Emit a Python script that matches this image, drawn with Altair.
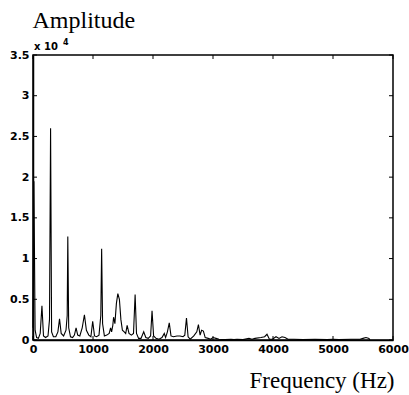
import altair as alt
import pandas as pd

# Spectrum data (frequency in Hz, amplitude in units of 10^4)
freq = [0, 15, 35, 60, 90, 120, 149, 175, 210, 250, 275, 293, 310, 340, 380, 415, 442, 470,
        510, 550, 570, 580, 595, 625, 660, 690, 718, 745, 780, 820, 857, 890, 930, 965, 995,
        1025, 1060, 1100, 1130, 1144, 1160, 1190, 1230, 1270, 1293, 1310, 1330, 1343, 1365,
        1390, 1414, 1440, 1465, 1490, 1520, 1545, 1569, 1600, 1640, 1675, 1702, 1725, 1760,
        1800, 1845, 1880, 1920, 1960, 1984, 2010, 2050, 2100, 2150, 2188, 2210, 2240, 2271,
        2300, 2340, 2400, 2450, 2500, 2530, 2558, 2585, 2620, 2680, 2730, 2757, 2785, 2810,
        2840, 2870, 2920, 2960, 3000, 3050, 3100, 3200, 3300, 3350, 3400, 3500, 3600, 3650,
        3700, 3800, 3860, 3900, 3940, 3990, 4050, 4100, 4150, 4200, 4250, 4350, 4500, 4700,
        4900, 5000, 5100, 5300, 5450, 5500, 5550, 5600, 5614]
amp = [0.15, 1.95, 0.12, 0.03, 0.02, 0.08, 0.42, 0.05, 0.03, 0.05, 0.25, 2.60, 0.10, 0.04,
       0.04, 0.10, 0.26, 0.08, 0.05, 0.12, 0.30, 1.27, 0.15, 0.04, 0.03, 0.06, 0.15, 0.06,
       0.05, 0.15, 0.31, 0.12, 0.06, 0.04, 0.23, 0.05, 0.04, 0.06, 0.30, 1.12, 0.20, 0.05,
       0.06, 0.08, 0.15, 0.10, 0.18, 0.28, 0.20, 0.45, 0.57, 0.50, 0.25, 0.12, 0.10, 0.08,
       0.18, 0.08, 0.06, 0.08, 0.56, 0.08, 0.02, 0.02, 0.10, 0.03, 0.02, 0.05, 0.36, 0.05,
       0.02, 0.01, 0.03, 0.08, 0.03, 0.10, 0.21, 0.05, 0.04, 0.05, 0.05, 0.04, 0.06, 0.27,
       0.04, 0.01, 0.05, 0.10, 0.19, 0.06, 0.12, 0.11, 0.03, 0.02, 0.01, 0.03, 0.02, 0.01,
       0.005, 0.01, 0.005, 0.01, 0.005, 0.02, 0.01, 0.02, 0.03, 0.04, 0.07, 0.01, 0.01, 0.04,
       0.02, 0.04, 0.03, 0.01, 0.01, 0.005, 0.01, 0.005, 0.01, 0.005, 0.01, 0.01, 0.02, 0.03,
       0.02, 0.0]

x_ticks = [0, 1000, 2000, 3000, 4000, 5000, 6000]
y_ticks = [0, 0.5, 1, 1.5, 2, 2.5, 3, 3.5]
x_title = "Frequency (Hz)"
y_title = "Amplitude"
exp_base = ["x 10"]
exp_power = ["4"]

W, H = 360, 285
TL = 4  # inward tick length
SANS = "DejaVu Sans"
SERIF = "Liberation Serif"

df = pd.DataFrame({"f": freq, "a": amp})
xt = pd.DataFrame({"f": x_ticks})
yt = pd.DataFrame({"a": y_ticks})

xscale = alt.Scale(domain=[0, 6000], nice=False, zero=False)
yscale = alt.Scale(domain=[0, 3.5], nice=False, zero=False)

x_axis = alt.Axis(values=x_ticks, ticks=False, grid=False, labelPadding=3,
                  labelFont=SANS, labelFontWeight="bold", labelFontSize=11,
                  labelColor="black", labelFlush=False, labelOverlap=False,
                  labelExpr="format(datum.value, 'd')",
                  domainColor="black", domainWidth=1.5,
                  title=x_title, titleFont=SERIF, titleFontSize=23,
                  titleFontWeight="normal", titleColor="black",
                  titleAlign="right", titleAnchor="end", titleX=W + 1, titleY=47,
                  titleBaseline="alphabetic")
y_axis = alt.Axis(values=y_ticks, ticks=False, grid=False, labelPadding=4,
                  labelFont=SANS, labelFontWeight="bold", labelFontSize=11,
                  labelColor="black", labelFlush=False, labelOverlap=False,
                  labelExpr="datum.value == 0 ? '0' : format(datum.value, '.2~f')",
                  domainColor="black", domainWidth=1.5,
                  title=y_title, titleFont=SERIF, titleFontSize=24,
                  titleFontWeight="normal", titleColor="black", titleAngle=0,
                  titleAlign="left", titleX=-1, titleY=-28,
                  titleBaseline="alphabetic")

line = alt.Chart(df).mark_line(color="black", strokeWidth=1.1).encode(
    x=alt.X("f:Q", scale=xscale, axis=x_axis),
    y=alt.Y("a:Q", scale=yscale, axis=y_axis),
)

bottom_ticks = alt.Chart(xt).mark_rule(color="black", strokeWidth=1).encode(
    x=alt.X("f:Q", scale=xscale, axis=x_axis), y=alt.value(H), y2=alt.value(H - TL))
top_ticks = alt.Chart(xt).mark_rule(color="black", strokeWidth=1).encode(
    x=alt.X("f:Q", scale=xscale, axis=x_axis), y=alt.value(0), y2=alt.value(TL))
left_ticks = alt.Chart(yt).mark_rule(color="black", strokeWidth=1).encode(
    y=alt.Y("a:Q", scale=yscale, axis=y_axis), x=alt.value(0), x2=alt.value(TL))
right_ticks = alt.Chart(yt).mark_rule(color="black", strokeWidth=1).encode(
    y=alt.Y("a:Q", scale=yscale, axis=y_axis), x=alt.value(W), x2=alt.value(W - TL))

exp_text = alt.Chart(pd.DataFrame({"s": exp_base})).mark_text(
    align="left", baseline="alphabetic", font=SANS, fontWeight="bold",
    fontSize=10, color="black").encode(text="s:N", x=alt.value(1), y=alt.value(-5))
pow_text = alt.Chart(pd.DataFrame({"s": exp_power})).mark_text(
    align="left", baseline="alphabetic", font=SANS, fontWeight="bold",
    fontSize=8, color="black").encode(text="s:N", x=alt.value(30), y=alt.value(-10))

chart = alt.layer(line, bottom_ticks, top_ticks, left_ticks, right_ticks,
                  exp_text, pow_text).properties(
    width=W, height=H,
    autosize=alt.AutoSizeParams(type="none"),
    padding={"left": 33, "top": 55, "right": 16, "bottom": 55},
    background="white",
).configure_view(stroke="black", strokeWidth=1.5)

chart.save("out.html", embed_options={"renderer": "svg", "actions": False})
